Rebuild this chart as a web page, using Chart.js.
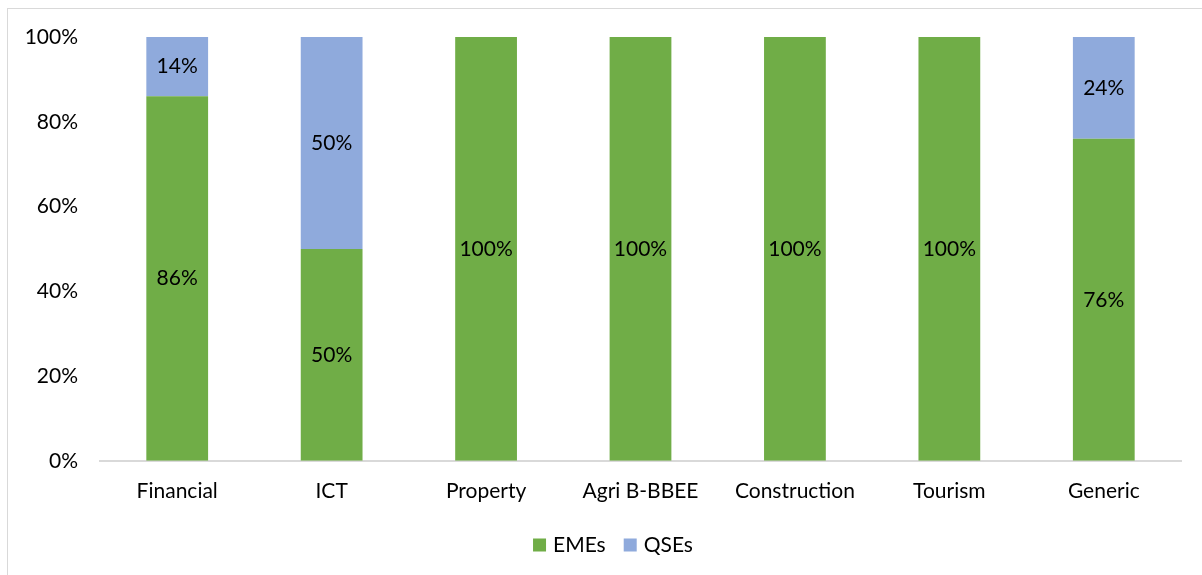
<!DOCTYPE html>
<html>
<head>
<meta charset="utf-8">
<script src="https://cdn.jsdelivr.net/npm/chart.js@4/dist/chart.umd.min.js"></script>
<style>
html,body{margin:0;padding:0;background:#fff;}
#wrap{position:relative;width:1202px;height:575px;overflow:hidden;}
#frame{position:absolute;left:7px;top:8px;width:1210px;height:600px;border:1px solid #d9d9d9;box-sizing:border-box;}
canvas{position:absolute;left:0;top:0;}
</style>
</head>
<body>
<div id="wrap">
<div id="frame"></div>
<canvas id="c" width="1202" height="575"></canvas>
</div>
<script>
const categories = ['Financial','ICT','Property','Agri B-BBEE','Construction','Tourism','Generic'];
const emes = [86,50,100,100,100,100,76];
const qses = [14,50,0,0,0,0,24];
const yTicks = [0,20,40,60,80,100];

const FONT = 'Lato, "Open Sans", sans-serif';
const FS = 21;

const labelPlugin = {
  id:'segLabels',
  afterDatasetsDraw(chart){
    const ctx = chart.ctx;
    ctx.save();
    ctx.font = FS + 'px ' + FONT;
    ctx.fillStyle = '#000';
    ctx.textAlign = 'center';
    ctx.textBaseline = 'middle';
    chart.data.datasets.forEach((ds,i)=>{
      const meta = chart.getDatasetMeta(i);
      meta.data.forEach((el,j)=>{
        const v = ds.data[j];
        if(!v) return;
        const cy = (el.y + el.base)/2;
        ctx.fillText(v + '%', el.x, cy);
      });
    });
    ctx.restore();
  }
};

const legendPlugin = {
  id:'customLegend',
  afterDraw(chart){
    const ctx = chart.ctx;
    ctx.save();
    ctx.font = FS + 'px ' + FONT;
    ctx.textBaseline = 'middle';
    ctx.textAlign = 'left';
    const box = 13, gapBT = 7, gapItems = 18;
    const items = chart.data.datasets.map(ds=>({label:ds.label,color:ds.backgroundColor,w:ctx.measureText(ds.label).width}));
    let total = 0;
    items.forEach((it,i)=>{ total += box + gapBT + it.w + (i<items.length-1?gapItems:0); });
    const cx = 613, cy = 545;
    let x = cx - total/2;
    items.forEach(it=>{
      ctx.fillStyle = it.color;
      ctx.fillRect(x, cy - box/2, box, box);
      x += box + gapBT;
      ctx.fillStyle = '#000';
      ctx.fillText(it.label, x, cy);
      x += it.w + gapItems;
    });
    ctx.restore();
  }
};

new Chart(document.getElementById('c'), {
  type:'bar',
  data:{
    labels:categories,
    datasets:[
      {label:'EMEs', data:emes, backgroundColor:'#70ad47', borderWidth:0, categoryPercentage:1, barPercentage:0.4},
      {label:'QSEs', data:qses, backgroundColor:'#8faadc', borderWidth:0, categoryPercentage:1, barPercentage:0.4}
    ]
  },
  options:{
    responsive:false,
    animation:false,
    devicePixelRatio:1,
    layout:{padding:{left:0,right:21,top:37,bottom:53}},
    plugins:{
      legend:{display:false},
      tooltip:{enabled:false}
    },
    scales:{
      x:{
        stacked:true,
        grid:{display:false,drawTicks:false},
        border:{display:true,color:'#d9d9d9',width:2},
        ticks:{font:{family:FONT,size:FS},color:'#000',padding:18}
      },
      y:{
        stacked:true,
        min:0,max:100,
        afterFit(scale){scale.width=100;},
        afterBuildTicks(scale){scale.ticks = yTicks.map(v=>({value:v}));},
        grid:{display:false,drawTicks:false},
        border:{display:false},
        ticks:{font:{family:FONT,size:FS},color:'#000',padding:22,callback:v=>v+'%'}
      }
    }
  },
  plugins:[labelPlugin, legendPlugin]
});
</script>
</body>
</html>
